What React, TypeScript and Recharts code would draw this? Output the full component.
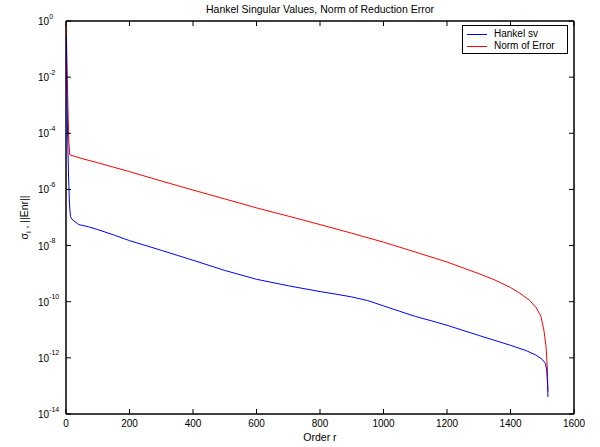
import React from 'react';
import { LineChart, Line, XAxis, YAxis, Legend, Label, ReferenceArea } from 'recharts';

// Order r and values
const hankelOrder = [1, 3, 5, 8, 11, 14, 18, 25, 40, 70, 100, 150, 200, 300, 400, 500, 600, 700, 800, 850, 900, 950, 1000, 1050, 1100, 1150, 1200, 1300, 1400, 1450, 1480, 1500, 1510, 1514, 1517, 1518];
const hankelSv = [0.3, 3e-3, 1e-4, 3e-6, 3e-7, 1.1e-7, 8.9e-8, 7.6e-8, 5.6e-8, 4.7e-8, 3.7e-8, 2.4e-8, 1.5e-8, 6.8e-9, 3.0e-9, 1.3e-9, 6.3e-10, 3.7e-10, 2.3e-10, 1.86e-10, 1.48e-10, 1.1e-10, 7.1e-11, 4.6e-11, 3.0e-11, 2.1e-11, 1.45e-11, 6.3e-12, 2.8e-12, 1.8e-12, 1.26e-12, 8.9e-13, 6.3e-13, 3.7e-13, 1e-13, 4e-14];

const errorOrder = [1, 3, 6, 9, 12, 50, 100, 200, 300, 400, 500, 600, 700, 800, 900, 1000, 1100, 1200, 1300, 1350, 1400, 1430, 1460, 1480, 1495, 1505, 1512, 1516, 1518];
const errorNorm = [0.7, 3e-2, 1e-3, 5e-5, 1.7e-5, 1.26e-5, 8.9e-6, 4.3e-6, 2.0e-6, 9.5e-7, 4.6e-7, 2.2e-7, 1.12e-7, 5.6e-8, 2.75e-8, 1.32e-8, 5.9e-9, 2.6e-9, 1.0e-9, 6.0e-10, 3.2e-10, 2.0e-10, 1.12e-10, 6.3e-11, 3.2e-11, 1.0e-11, 2.5e-12, 4e-13, 6.3e-14];

const xTicks = [0, 200, 400, 600, 800, 1000, 1200, 1400, 1600];
const yTicks = [1, 1e-2, 1e-4, 1e-6, 1e-8, 1e-10, 1e-12, 1e-14];

const titleText = 'Hankel Singular Values, Norm of Reduction Error';
const xLabelText = 'Order r';

const seriesList = [
  { key: 'hankel', name: 'Hankel sv', color: '#0000ff' },
  { key: 'error', name: 'Norm of Error', color: '#ff0000' },
];

const allOrders = Array.from(new Set([...hankelOrder, ...errorOrder])).sort((a, b) => a - b);
const table = allOrders.map((r) => {
  const hi = hankelOrder.indexOf(r);
  const ei = errorOrder.indexOf(r);
  return { r, hankel: hi >= 0 ? hankelSv[hi] : null, error: ei >= 0 ? errorNorm[ei] : null };
});

const FONT = '"Liberation Sans", Arial, Helvetica, sans-serif';
const TICK = 5;

const BottomTick = (p: any) => (
  <g>
    <line x1={p.x} x2={p.x} y1={p.y} y2={p.y - TICK} stroke="#000" strokeWidth={1} />
    <text x={p.x} y={p.y + 13} textAnchor="middle" fontSize={10} fill="#000" fontFamily={FONT}>
      {p.payload.value}
    </text>
  </g>
);

const TopTick = (p: any) => (
  <line x1={p.x} x2={p.x} y1={p.y} y2={p.y + TICK} stroke="#000" strokeWidth={1} />
);

const LeftTick = (p: any) => {
  const e = Math.round(Math.log10(p.payload.value));
  return (
    <g>
      <line x1={p.x} x2={p.x + TICK} y1={p.y} y2={p.y} stroke="#000" strokeWidth={1} />
      <text x={p.x - 28} y={p.y + 4} fontSize={10} fill="#000" fontFamily={FONT}>
        10
        <tspan dy={-6.5} fontSize={7}>{String(e)}</tspan>
      </text>
    </g>
  );
};

const RightTick = (p: any) => (
  <line x1={p.x} x2={p.x - TICK} y1={p.y} y2={p.y} stroke="#000" strokeWidth={1} />
);

const TitleLabel = (p: any) => {
  const vb = p.viewBox || { x: 66, y: 20, width: 508, height: 1 };
  return (
    <text x={vb.x + vb.width / 2} y={vb.y + vb.height - 8} textAnchor="middle" fontSize={10.5} fill="#000" fontFamily={FONT}>
      {titleText}
    </text>
  );
};

const XLabel = (p: any) => {
  const vb = p.viewBox || { x: 66, y: 414, width: 508, height: 33 };
  return (
    <text x={vb.x + vb.width / 2} y={vb.y + 27} textAnchor="middle" fontSize={10.5} fill="#000" fontFamily={FONT}>
      {xLabelText}
    </text>
  );
};

const YLabel = (p: any) => {
  const vb = p.viewBox || { x: 0, y: 21, width: 66, height: 393 };
  const cx = vb.x + 27.5;
  const cy = vb.y + vb.height / 2;
  return (
    <text x={cx} y={cy} transform={`rotate(-90 ${cx} ${cy})`} textAnchor="middle" fontSize={10.5} fill="#000" fontFamily={FONT}>
      σ
      <tspan dy={3} fontSize={7.5}>i</tspan>
      <tspan dy={-3}> , ||Enr||</tspan>
    </text>
  );
};

const LegendBox = () => (
  <div
    style={{
      border: '1px solid #000',
      background: '#fff',
      width: 104,
      height: 25,
      boxSizing: 'content-box',
      fontFamily: FONT,
      fontSize: 10,
      color: '#000',
      paddingTop: 2,
    }}
  >
    {seriesList.map((s) => (
      <div key={s.key} style={{ display: 'flex', alignItems: 'center', height: 12, lineHeight: '12px' }}>
        <svg width={31} height={12} style={{ display: 'block' }}>
          <line x1={4} x2={24} y1={6.5} y2={6.5} stroke={s.color} strokeWidth={1} />
        </svg>
        <span>{s.name}</span>
      </div>
    ))}
  </div>
);

export default function App() {
  return (
    <div style={{ position: 'absolute', left: 0, top: 0, width: 600, height: 447, background: '#fff' }}>
      <LineChart width={600} height={447} data={table} margin={{ top: 20, right: 25, bottom: 0, left: 0 }}>
        <XAxis
          xAxisId="bottom"
          dataKey="r"
          type="number"
          domain={[0, 1600]}
          allowDataOverflow
          ticks={xTicks}
          interval={0}
          height={33}
          tickSize={0}
          tickMargin={0}
          tickLine={false}
          stroke="#000"
          axisLine={{ stroke: '#000', strokeWidth: 1 }}
          tick={BottomTick}
        >
          <Label content={XLabel} />
        </XAxis>
        <XAxis
          xAxisId="top"
          orientation="top"
          dataKey="r"
          type="number"
          domain={[0, 1600]}
          allowDataOverflow
          ticks={xTicks}
          interval={0}
          height={1}
          tickSize={0}
          tickMargin={0}
          tickLine={false}
          stroke="#000"
          axisLine={{ stroke: '#000', strokeWidth: 1 }}
          tick={TopTick}
        >
          <Label content={TitleLabel} />
        </XAxis>
        <YAxis
          yAxisId="left"
          scale="log"
          type="number"
          domain={[1e-14, 1]}
          allowDataOverflow
          ticks={yTicks}
          interval={0}
          width={66}
          tickSize={0}
          tickMargin={0}
          tickLine={false}
          stroke="#000"
          axisLine={{ stroke: '#000', strokeWidth: 1 }}
          tick={LeftTick}
        >
          <Label content={YLabel} />
        </YAxis>
        <YAxis
          yAxisId="right"
          orientation="right"
          scale="log"
          type="number"
          domain={[1e-14, 1]}
          allowDataOverflow
          ticks={yTicks}
          interval={0}
          width={1}
          tickSize={0}
          tickMargin={0}
          tickLine={false}
          stroke="#000"
          axisLine={{ stroke: '#000', strokeWidth: 1 }}
          tick={RightTick}
        />
        <ReferenceArea
          xAxisId="bottom"
          yAxisId="left"
          x1={0}
          x2={1600}
          y1={1e-14}
          y2={1}
          fill="none"
          fillOpacity={0}
          stroke="#000"
          strokeWidth={1}
          strokeOpacity={1}
          ifOverflow="visible"
        />
        <Legend
          layout="vertical"
          align="center"
          verticalAlign="middle"
          content={LegendBox}
          wrapperStyle={{ left: 462, top: 25, width: 106, height: 29 }}
        />
        <Line
          xAxisId="bottom"
          yAxisId="left"
          dataKey="error"
          name="Norm of Error"
          stroke="#ff0000"
          strokeWidth={1}
          dot={false}
          activeDot={false}
          connectNulls
          type="linear"
          isAnimationActive={false}
        />
        <Line
          xAxisId="bottom"
          yAxisId="left"
          dataKey="hankel"
          name="Hankel sv"
          stroke="#0000ff"
          strokeWidth={1}
          dot={false}
          activeDot={false}
          connectNulls
          type="linear"
          isAnimationActive={false}
        />
      </LineChart>
    </div>
  );
}
